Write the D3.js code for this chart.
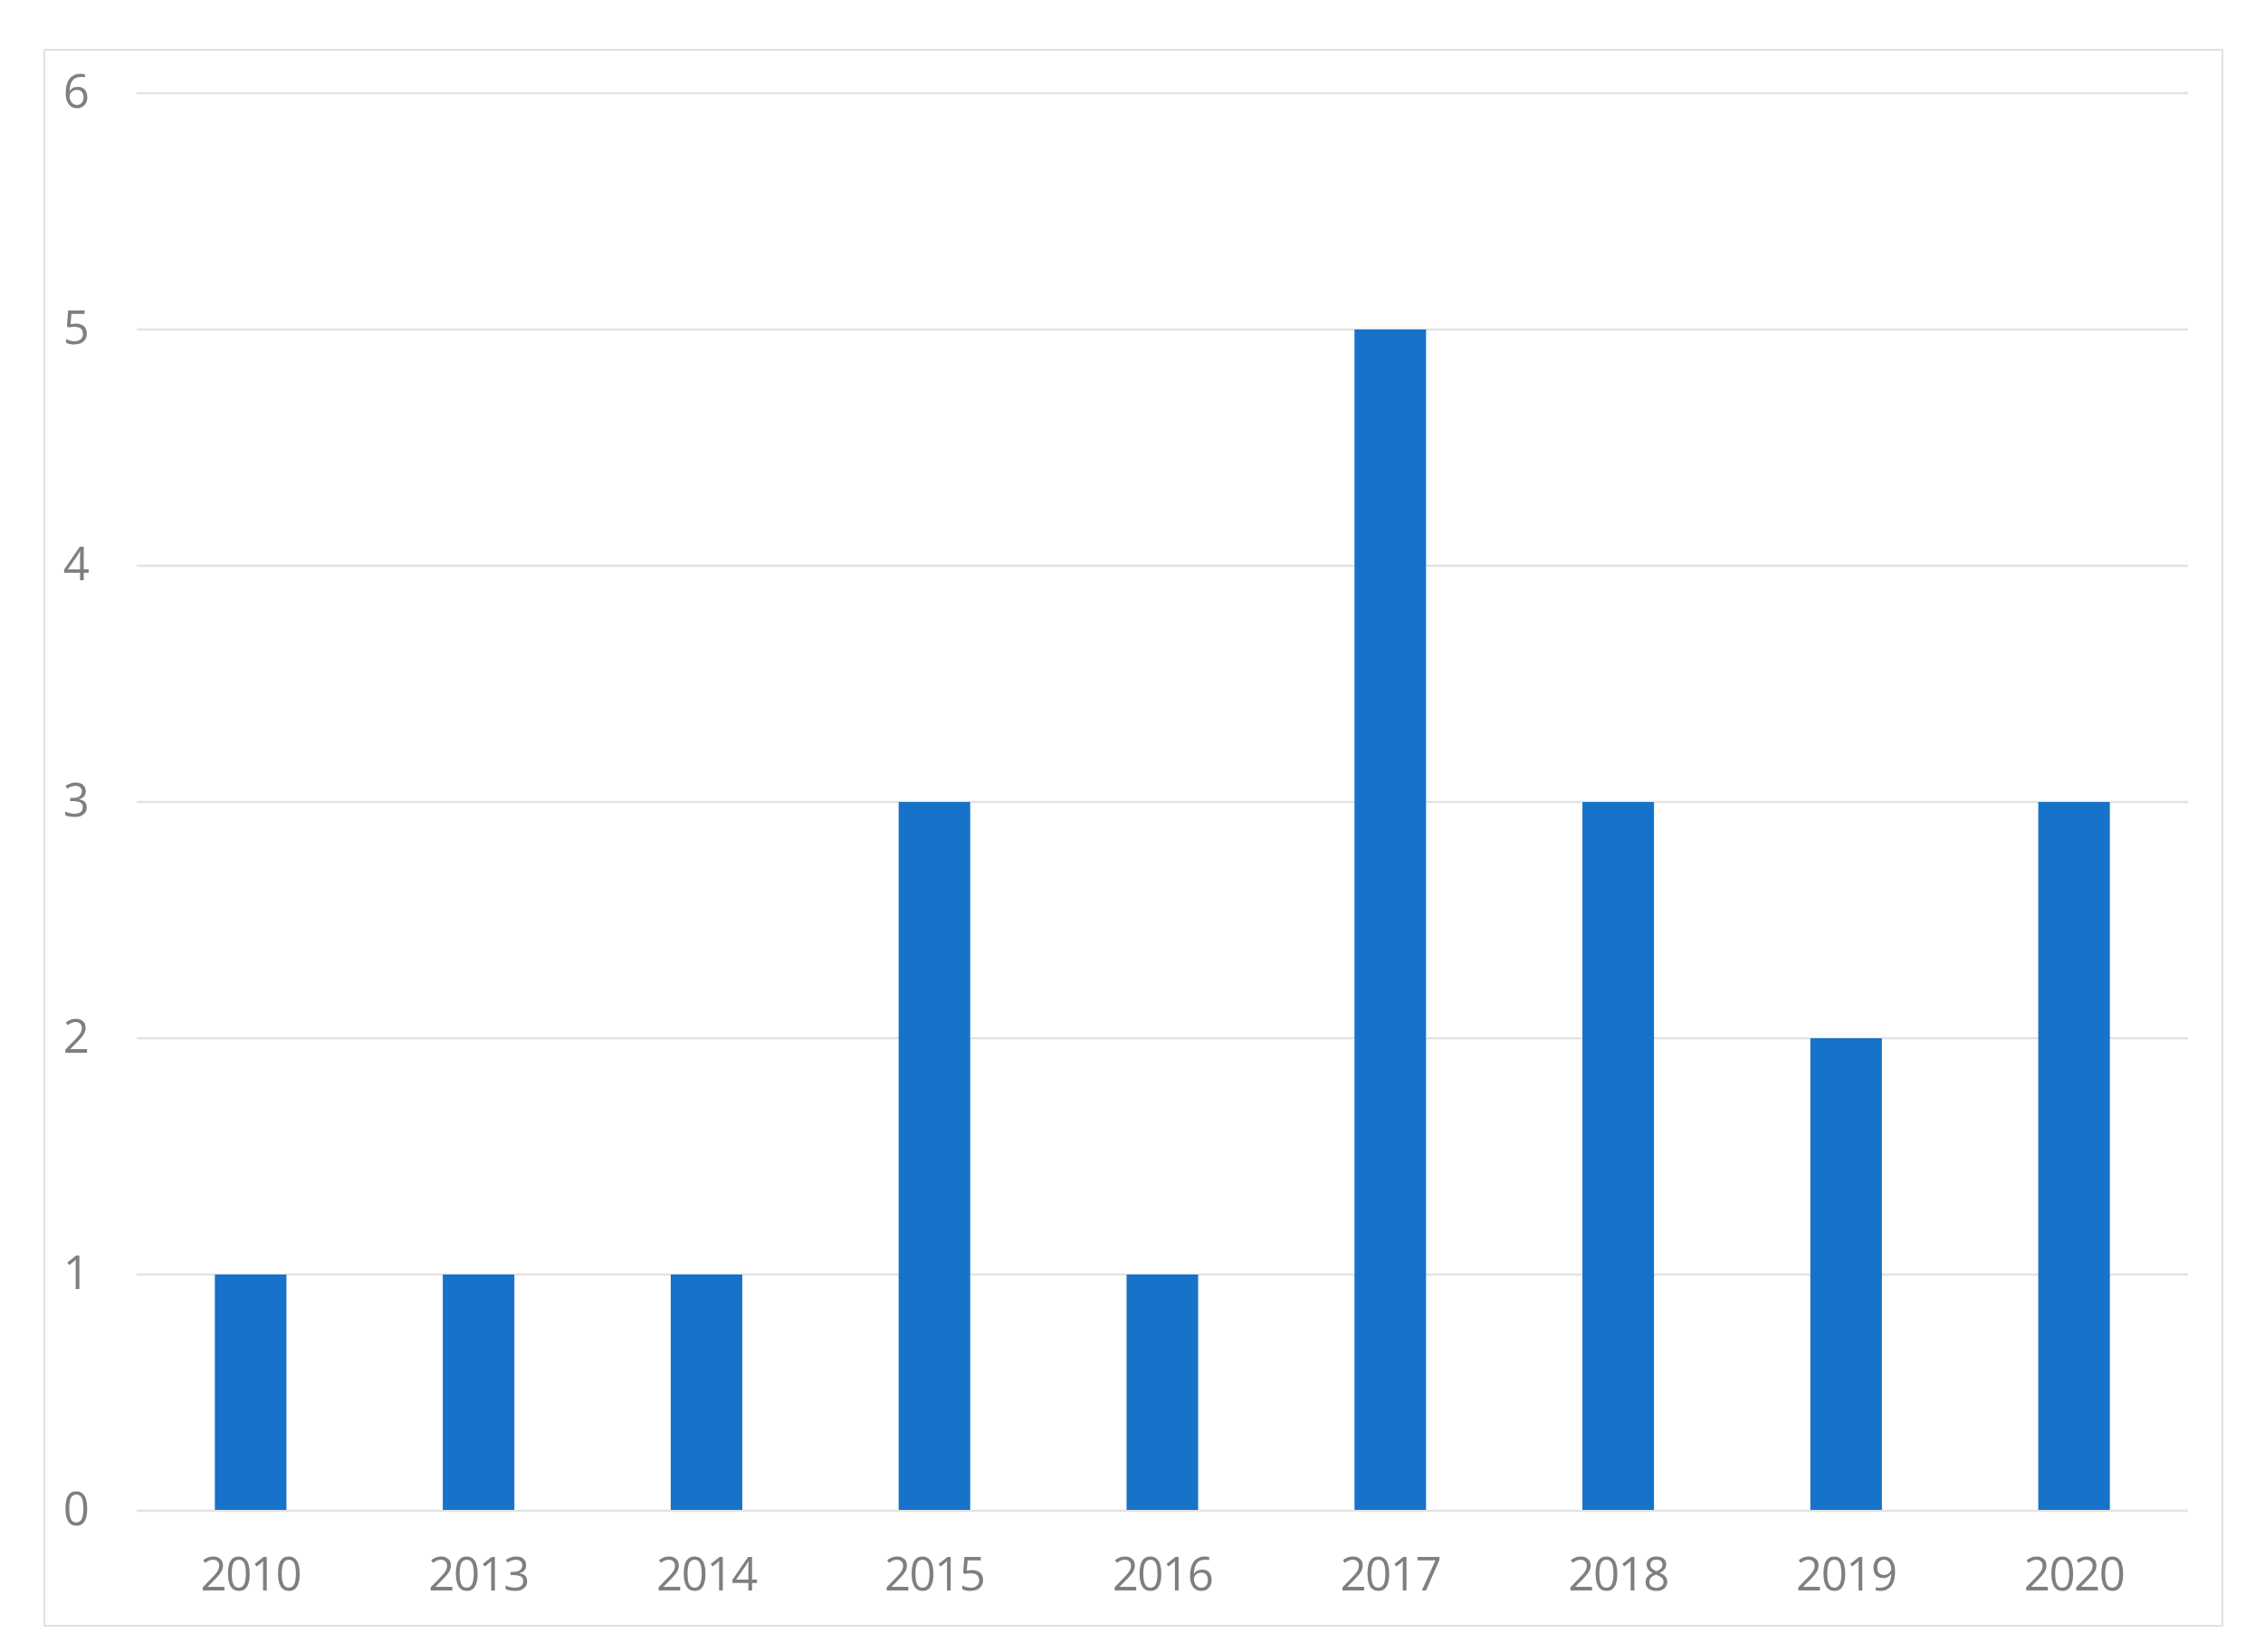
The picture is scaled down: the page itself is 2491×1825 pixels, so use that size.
<!DOCTYPE html>
<html>
<head>
<meta charset="utf-8">
<script src="https://cdn.jsdelivr.net/npm/d3@7"></script>
<style>
  body { margin: 0; background: #fff; }
  svg text { font-family: "Open Sans", sans-serif; fill: #7f7f7f; }
</style>
</head>
<body>
<svg width="2491" height="1825"></svg>
<script>
// chart data
var years = ["2010", "2013", "2014", "2015", "2016", "2017", "2018", "2019", "2020"];
var counts = [1, 1, 1, 3, 1, 5, 3, 2, 3];
var yTicks = [0, 1, 2, 3, 4, 5, 6];

var data = years.map(function(y, i) { return { year: y, value: counts[i] }; });

var svg = d3.select("svg");

// outer chart frame
svg.append("rect")
  .attr("x", 49)
  .attr("y", 55)
  .attr("width", 2406)
  .attr("height", 1741)
  .attr("fill", "#fff")
  .attr("stroke", "#e0e0e0")
  .attr("stroke-width", 2);

// plot area (note: "top" is a reserved window global, so use other names)
var plotLeft = 151, plotRight = 2417, plotTop = 103, plotBottom = 1669;

var x = d3.scaleBand()
  .domain(years)
  .range([plotLeft, plotRight])
  .paddingInner(0.686)
  .paddingOuter(0.343);

var y = d3.scaleLinear()
  .domain([0, 6])
  .range([plotBottom, plotTop]);

// gridlines
svg.append("g")
  .selectAll("line")
  .data(yTicks)
  .enter()
  .append("line")
  .attr("x1", plotLeft)
  .attr("x2", plotRight)
  .attr("y1", function(d) { return y(d); })
  .attr("y2", function(d) { return y(d); })
  .attr("stroke", "#e3e3e3")
  .attr("stroke-width", 2.5);

// bars
svg.append("g")
  .selectAll("rect")
  .data(data)
  .enter()
  .append("rect")
  .attr("x", function(d) { return x(d.year); })
  .attr("y", function(d) { return y(d.value); })
  .attr("width", x.bandwidth())
  .attr("height", function(d) { return y(0) - y(d.value) - 1; })
  .attr("fill", "#1772c9");

// y axis labels
svg.append("g")
  .selectAll("text")
  .data(yTicks)
  .enter()
  .append("text")
  .attr("x", 99)
  .attr("y", function(d) { return y(d); })
  .attr("dy", "0.32em")
  .attr("text-anchor", "end")
  .style("font-size", "51px")
  .text(function(d) { return d; });

// x axis labels
svg.append("g")
  .selectAll("text")
  .data(years)
  .enter()
  .append("text")
  .attr("x", function(d) { return x(d) + x.bandwidth() / 2; })
  .attr("y", 1757)
  .attr("text-anchor", "middle")
  .style("font-size", "51px")
  .style("letter-spacing", "-1.5px")
  .text(function(d) { return d; });
</script>
</body>
</html>
